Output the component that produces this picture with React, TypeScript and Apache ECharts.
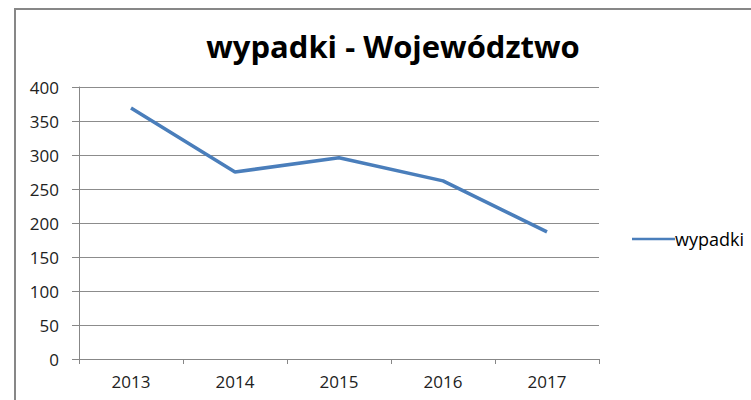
import React, { useEffect, useRef } from "react";
import * as echarts from "echarts";

const categories = ["2013", "2014", "2015", "2016", "2017"];
const wypadki = [369, 275, 296, 262, 187];
const seriesName = "wypadki";
const titleText = "wypadki - Województwo";

export default function App() {
  const ref = useRef<HTMLDivElement>(null);
  useEffect(() => {
    if (!ref.current) return;
    const chart = echarts.init(ref.current, undefined, { renderer: "svg" });
    const font = "'Open Sans', Lato, sans-serif";
    chart.setOption({
      animation: false,
      backgroundColor: "#ffffff",
      title: {
        text: titleText,
        left: 388,
        textAlign: "center",
        top: 25,
        textStyle: { fontFamily: font, fontSize: 31, fontWeight: "bold", color: "#000" },
      },
      legend: {
        data: [seriesName],
        left: 627,
        top: 225,
        orient: "vertical",
        itemWidth: 43,
        itemHeight: 20,
        itemGap: 0,
        icon: "path://M0,9 L43,9 L43,11.5 L0,11.5 Z",
        textStyle: { fontFamily: font, fontSize: 18, color: "#000", padding: [0, 0, 0, -5] },
      },
      graphic: [
        {
          type: "rect",
          shape: { x: 15, y: 9, width: 900, height: 600 },
          style: { fill: "none", stroke: "#878787", lineWidth: 2 },
          silent: true,
        },
      ],
      grid: { left: 79, right: 152, top: 87, bottom: 41 },
      xAxis: {
        type: "category",
        data: categories,
        boundaryGap: true,
        axisLine: { lineStyle: { color: "#878787", width: 1 } },
        axisTick: { show: true, length: 5, inside: false, lineStyle: { color: "#878787" } },
        axisLabel: { fontFamily: font, fontSize: 17, color: "#222", margin: 14 },
        splitLine: { show: false },
      },
      yAxis: {
        type: "value",
        min: 0,
        max: 400,
        interval: 50,
        axisLine: { show: true, lineStyle: { color: "#878787", width: 1 } },
        axisTick: { show: true, length: 7, lineStyle: { color: "#878787" } },
        axisLabel: { fontFamily: font, fontSize: 17, color: "#222", margin: 20 },
        splitLine: { show: true, lineStyle: { color: "#8c8c8c", width: 1 } },
      },
      series: [
        {
          name: seriesName,
          type: "line",
          data: wypadki,
          symbol: "none",
          lineStyle: { color: "#4a7ebb", width: 3.5 },
          itemStyle: { color: "#4a7ebb" },
        },
      ],
    });
    return () => chart.dispose();
  }, []);
  return (
    <div
      ref={ref}
      style={{ position: "fixed", left: 0, top: 0, width: 751, height: 400 }}
    />
  );
}
